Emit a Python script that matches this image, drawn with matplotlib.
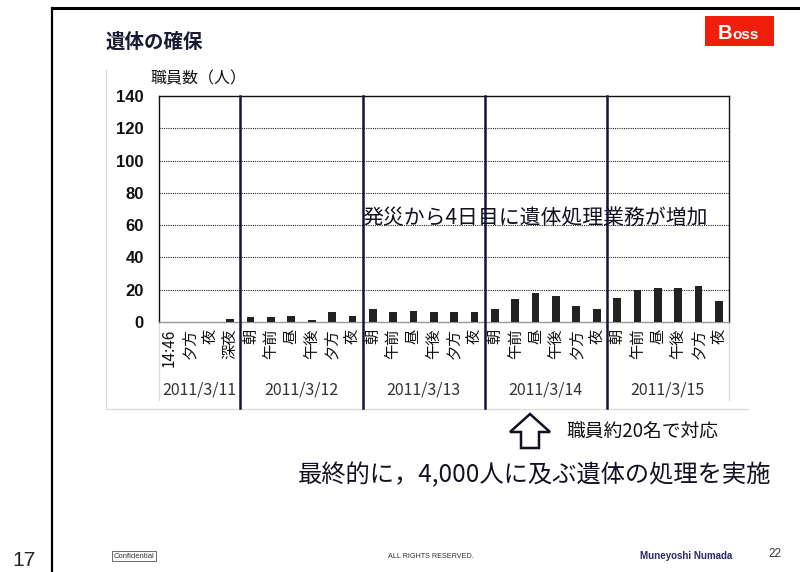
import matplotlib
matplotlib.use("Agg")
import matplotlib.pyplot as plt
from matplotlib.patches import Rectangle, Polygon
from matplotlib.lines import Line2D
import matplotlib.transforms as mtransforms
import numpy as np

JP = ['Noto Sans CJK JP', 'DejaVu Sans']
plt.rcParams['font.family'] = JP

# ---------------- data ----------------
days = ["2011/3/11", "2011/3/12", "2011/3/13", "2011/3/14", "2011/3/15"]
slots_311 = ["14:46", "夕方", "夜", "深夜"]
slots_day = ["朝", "午前", "昼", "午後", "夕方", "夜"]
values_311 = [0, 0, 0, 2]
values_312 = [3, 3, 4, 1, 6, 4]
values_313 = [8, 6, 7, 6, 6, 6]
values_314 = [8, 14, 18, 16, 10, 8]
values_315 = [15, 20, 21, 21, 22, 13]
y_ticks = [0, 20, 40, 60, 80, 100, 120, 140]

groups = [(slots_311, values_311), (slots_day, values_312), (slots_day, values_313),
          (slots_day, values_314), (slots_day, values_315)]
labels = []
values = []
group_sizes = []
for s, v in groups:
    labels += s
    values += v
    group_sizes.append(len(s))

W, H = 800, 572
fig = plt.figure(figsize=(W / 100, H / 100), dpi=100)
fig.patch.set_facecolor("white")

# overlay axes in pixel coordinates for slide decorations
ov = fig.add_axes([0, 0, 1, 1], zorder=0)
ov.set_xlim(0, W)
ov.set_ylim(H, 0)
ov.axis("off")

# slide frame
ov.add_line(Line2D([52, 800], [8, 8], color="black", lw=2.2))
ov.add_line(Line2D([52, 52], [8, 572], color="black", lw=1.6))

# chart box (light grey)
ov.add_line(Line2D([106, 106], [70, 409], color="#dcdcdc", lw=1))
ov.add_line(Line2D([106, 748], [409, 409], color="#dcdcdc", lw=1))
ov.add_line(Line2D([159, 159], [322, 400], color="#dcdcdc", lw=1))
ov.add_line(Line2D([729, 729], [322, 400], color="#dcdcdc", lw=1))

# title
ov.text(105, 42, "遺体の確保", fontsize=14, fontweight="bold", color="#1a1a33",
        ha="left", va="center")

# Boss logo
ov.add_patch(Rectangle((705, 16), 69, 30, facecolor="#f01e0a", edgecolor="none"))
ov.text(718, 39, "B", fontsize=14.5, fontweight="bold", color="white",
        ha="left", va="baseline", family="Liberation Sans")
ov.text(732, 39, "oss", fontsize=11, fontweight="bold", color="white",
        ha="left", va="baseline", family="Liberation Sans")

# y-axis unit label
ov.text(150, 79, "職員数（人）", fontsize=11.5, color="#111111", ha="left", va="center")

# arrow + note
arrow = Polygon([[530, 414], [510, 432], [521, 432], [521, 448], [539, 448],
                 [539, 432], [550, 432]], closed=True, facecolor="white",
                edgecolor="#111122", lw=1.8)
ov.add_patch(arrow)
ov.text(566, 432, "職員約20名で対応", fontsize=13.5, color="#111111", ha="left", va="center")

ov.text(298, 475, "最終的に，4,000人に及ぶ遺体の処理を実施", fontsize=17.5,
        color="#111122", ha="left", va="center")

# footer
ov.text(134, 556, "Confidential", fontsize=5.5, color="#333333", ha="center", va="center",
        family="Liberation Sans",
        bbox=dict(boxstyle="square,pad=0.25", facecolor="white", edgecolor="#555555", lw=0.6))
ov.text(431, 556, "ALL RIGHTS RESERVED.", fontsize=5.2, color="#333333", ha="center",
        va="center", family="Liberation Sans")
ov.text(640, 556, "Muneyoshi Numada", fontsize=7, fontweight="bold", color="#2b2b66",
        ha="left", va="center", family="Liberation Sans")
ov.text(768, 554, "22", fontsize=8.5, color="#333333", ha="left", va="center",
        family="Liberation Sans")
ov.text(12, 570, "17", fontsize=15, color="#222222", ha="left", va="bottom",
        family="Liberation Sans")

# ---------------- chart axes ----------------
left, right, top, bottom = 159, 729, 96, 322
ax = fig.add_axes([left / W, 1 - bottom / H, (right - left) / W, (bottom - top) / H], zorder=1)
ax.patch.set_alpha(0)

x = np.arange(len(values))
ax.bar(x, values, width=0.38, color="#222222", zorder=3)
ax.set_xlim(-0.5, len(values) - 0.5)
ax.set_ylim(0, 140)
ax.set_yticks(y_ticks)
ax.set_yticklabels([str(t) for t in y_ticks], fontsize=12, fontweight="bold",
                   family="Liberation Sans", color="#111111")
ax.tick_params(axis="y", length=0, pad=11)
for t in y_ticks[1:-1]:
    ax.axhline(t, color="#222222", lw=0.8, linestyle=(0, (1, 1)), zorder=1)

ax.set_xticks(x)
ax.set_xticklabels(labels, rotation=90, fontsize=11, color="#111111")
ax.tick_params(axis="x", length=0, pad=5)

for sp in ["left", "right", "top"]:
    ax.spines[sp].set_color("#111111")
    ax.spines[sp].set_linewidth(1.0)
ax.spines["bottom"].set_color("#999999")
ax.spines["bottom"].set_linewidth(1.0)

trans = mtransforms.blended_transform_factory(ax.transData, ax.transAxes)
edges = np.cumsum(group_sizes)
starts = np.concatenate([[0], edges[:-1]])
for e in edges[:-1]:
    ax.add_line(Line2D([e - 0.5, e - 0.5], [-0.38, 1.0], transform=trans, color="#141438",
                       lw=1.8, clip_on=False, zorder=4))
for d, s, n in zip(days, starts, group_sizes):
    ax.text(s - 0.5 + n / 2, -0.30, d, transform=trans, ha="center", va="center",
            fontsize=11.5, color="#333333")

ax.text(0.357, 0.46, "発災から4日目に遺体処理業務が増加", transform=ax.transAxes,
        fontsize=15, color="#111122", ha="left", va="center", zorder=2)

fig.savefig("out.png", dpi=100, facecolor="white")
